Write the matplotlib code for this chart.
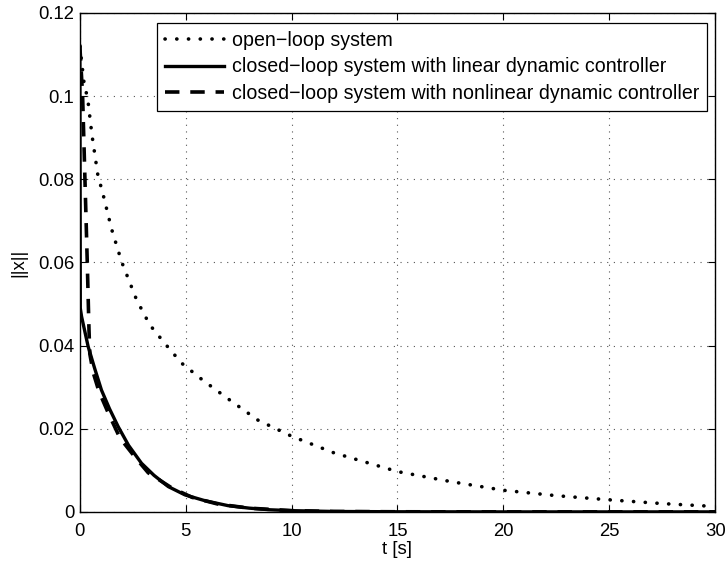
import matplotlib
matplotlib.use("Agg")
import matplotlib.pyplot as plt

plt.rcParams['font.family'] = ['Liberation Sans', 'DejaVu Sans']

# open-loop system
t_open = [0, 0.19, 0.38, 0.57, 0.85, 1.09, 1.5, 1.97, 2.68, 3.3, 4.0, 4.8, 5.8,
          7.08, 8.4, 10, 12, 15, 17.5, 20, 22.5, 25, 27.5, 30]
x_open = [0.112, 0.1035, 0.099, 0.0907, 0.081, 0.0765, 0.068, 0.0602, 0.051,
          0.045, 0.0406, 0.0358, 0.0317, 0.0269, 0.0221, 0.0182, 0.0142, 0.0097,
          0.0073, 0.0052, 0.0039, 0.0029, 0.002, 0.0013]

# closed-loop, linear dynamic controller
t_lin = [0, 0.02, 0.08, 0.39, 0.7, 1.02, 1.4, 1.81, 2.3, 2.91, 3.5, 4.17, 4.96,
         5.9, 7, 8, 9, 10, 12, 15, 20, 25, 30]
x_lin = [0.112, 0.049, 0.047, 0.0398, 0.0345, 0.0293, 0.0248, 0.0205, 0.016,
         0.0117, 0.0088, 0.0061, 0.0041, 0.0027, 0.0015, 0.0009, 0.0005, 0.0003,
         0.0001, 0.00003, 0, 0, 0]

# closed-loop, nonlinear dynamic controller
t_nl = [0, 0.13, 0.24, 0.35, 0.43, 0.47, 0.63, 0.9, 1.34, 1.89, 2.6, 3.23, 4.33,
        5.3, 6.5, 8, 10, 12, 15, 20, 25, 30]
x_nl = [0.112, 0.1, 0.08, 0.06, 0.044, 0.038, 0.0335, 0.029, 0.0238, 0.0178,
        0.0132, 0.0094, 0.0058, 0.0035, 0.0019, 0.0009, 0.0003, 0.0001, 0.00003,
        0, 0, 0]

labels = ['open\u2212loop system',
          'closed\u2212loop system with linear dynamic controller',
          'closed\u2212loop system with nonlinear dynamic controller']

fig = plt.figure(figsize=(7.26, 5.65), dpi=100)
ax = fig.add_axes([0.110, 0.094, 0.875, 0.883])

ax.plot(t_open, x_open, color='black', lw=2.6, linestyle=(0, (0.05, 3.2)),
        dash_capstyle='round', label=labels[0])
ax.plot(t_lin, x_lin, color='black', lw=2.4, linestyle='-', label=labels[1])
ax.plot(t_nl, x_nl, color='black', lw=2.6, linestyle=(0, (4, 3)), label=labels[2])

ax.set_xlim(0, 30)
ax.set_ylim(0, 0.12)
ax.set_xticks([0, 5, 10, 15, 20, 25, 30])
ax.set_yticks([0, 0.02, 0.04, 0.06, 0.08, 0.1, 0.12])
ax.set_yticklabels(['0', '0.02', '0.04', '0.06', '0.08', '0.1', '0.12'])
ax.tick_params(direction='in', top=True, right=True, labelsize=13.3, length=5,
               width=0.8)
ax.tick_params(axis='x', pad=8)
ax.tick_params(axis='y', pad=4)
ax.grid(True, color='#555555', linestyle=(0, (1, 5)), linewidth=0.8)
for s in ax.spines.values():
    s.set_linewidth(1.0)

ax.set_xlabel('t [s]', fontsize=13.3, labelpad=1)
ax.set_ylabel('||x||', fontsize=13.3, labelpad=8)

leg = ax.legend(loc='upper right', bbox_to_anchor=(0.988, 0.98), fontsize=14.1,
                frameon=True, fancybox=False, handlelength=3.0,
                borderpad=0.42, labelspacing=0.37, handletextpad=0.4,
                borderaxespad=0)
leg.get_frame().set_edgecolor('black')
leg.get_frame().set_linewidth(0.9)
leg.get_frame().set_alpha(1)

fig.savefig('out.png', dpi=100)
